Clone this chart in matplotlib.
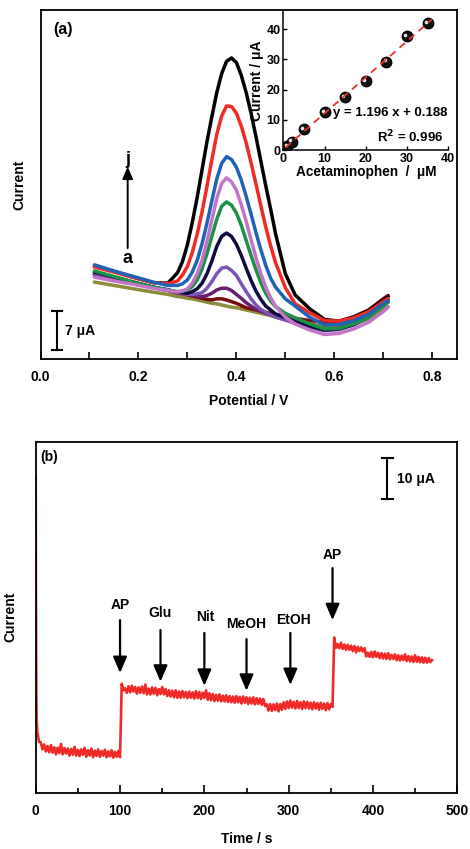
import numpy as np
import matplotlib
matplotlib.use('Agg')
import matplotlib.pyplot as plt
from matplotlib.transforms import ScaledTranslation

plt.rcParams['font.family'] = ['Liberation Sans', 'DejaVu Sans']
plt.rcParams['font.weight'] = 'bold'
plt.rcParams['axes.labelweight'] = 'bold'

# ---------------- panel (a): DPV curves ----------------
potential = [0.11, 0.15, 0.19, 0.23, 0.26,
             0.28, 0.29, 0.30, 0.31, 0.32, 0.33, 0.34, 0.35, 0.36, 0.37, 0.38,
             0.39, 0.40, 0.41, 0.42, 0.43, 0.44, 0.45, 0.46, 0.47, 0.48,
             0.50, 0.52, 0.55, 0.58, 0.61, 0.64, 0.67, 0.70, 0.71]

curve_a = [13.8, 13.2, 12.6, 12.0, 11.6,
           11.2, 11.1, 10.9, 10.8, 10.6, 10.4, 10.2, 10.0, 9.9, 9.7, 9.5,
           9.3, 9.2, 9.0, 8.8, 8.6, 8.4, 8.2, 8.0, 7.8, 7.6,
           7.2, 6.8, 6.3, 5.8, 5.8, 6.3, 7.2, 8.8, 9.4]
curve_b = [15.1, 14.3, 13.5, 12.8, 12.3,
           11.8, 11.7, 11.5, 11.3, 11.1, 10.9, 10.7, 10.6, 10.8, 10.8, 10.6,
           10.3, 10.0, 9.6, 9.2, 9.0, 8.8, 8.6, 8.4, 8.2, 8.0,
           7.7, 7.3, 6.9, 6.6, 6.8, 7.6, 8.8, 10.8, 11.4]
curve_c = [15.2, 14.4, 13.6, 12.8, 12.4,
           11.9, 11.8, 11.6, 11.5, 11.3, 11.2, 11.4, 11.8, 12.4, 12.7, 12.7,
           12.3, 11.6, 10.9, 10.1, 9.5, 8.9, 8.6, 8.2, 7.9, 7.6,
           7.1, 6.5, 5.9, 5.3, 5.5, 6.3, 7.7, 9.9, 10.6]
curve_d = [15.4, 14.5, 13.7, 12.9, 12.4,
           11.9, 11.8, 11.6, 11.6, 11.7, 11.9, 12.7, 13.9, 15.3, 16.3, 16.5,
           15.9, 15.0, 13.5, 12.1, 10.8, 9.7, 8.9, 8.4, 7.9, 7.5,
           7.0, 6.4, 5.7, 5.1, 5.3, 6.1, 7.5, 9.8, 10.5]
curve_e = [15.6, 14.7, 13.8, 12.9, 12.4,
           12.0, 11.9, 11.8, 12.1, 12.6, 13.6, 15.3, 17.6, 20.2, 22.0, 22.6,
           22.0, 20.6, 18.6, 16.3, 14.1, 12.2, 10.7, 9.5, 8.8, 8.1,
           7.4, 6.7, 5.9, 5.2, 5.4, 6.2, 7.6, 9.7, 10.4]
curve_f = [15.8, 14.8, 13.8, 12.9, 12.4,
           12.1, 12.2, 12.4, 13.0, 14.2, 16.2, 18.9, 22.0, 25.1, 27.4, 28.2,
           27.6, 26.2, 24.0, 21.3, 18.6, 16.0, 13.7, 11.8, 10.4, 9.4,
           8.2, 7.4, 6.3, 5.4, 5.5, 6.3, 7.5, 9.5, 10.2]
curve_g = [14.7, 14.0, 13.4, 12.7, 12.3,
           12.0, 12.2, 12.6, 13.6, 15.3, 17.7, 21.1, 25.0, 28.8, 31.5, 32.5,
           31.8, 30.3, 27.7, 24.7, 21.4, 18.2, 15.3, 12.9, 11.0, 9.5,
           7.5, 6.3, 5.2, 4.4, 4.6, 5.4, 6.6, 8.5, 9.3]
curve_h = [16.9, 15.8, 14.8, 13.8, 13.2,
           13.2, 13.5, 14.2, 15.6, 17.7, 20.7, 24.4, 28.4, 32.3, 35.1, 36.3,
           35.8, 34.4, 32.1, 29.2, 26.0, 22.7, 19.6, 16.8, 14.5, 12.9,
           10.8, 9.5, 7.5, 6.1, 6.2, 6.9, 8.0, 9.9, 10.5]
curve_i = [16.5, 15.6, 14.6, 13.7, 13.5,
           14.0, 15.1, 16.6, 19.1, 22.4, 26.4, 31.0, 35.8, 40.3, 43.6, 45.4,
           45.3, 44.1, 41.8, 38.8, 35.2, 31.4, 27.5, 23.7, 20.3, 17.3,
           12.8, 9.9, 8.3, 6.9, 6.8, 7.4, 8.5, 10.3, 10.9]
curve_j = [16.7, 15.7, 14.7, 13.7, 13.6,
           15.5, 17.5, 20.5, 24.5, 29.0, 34.0, 39.0, 43.5, 47.8, 51.2, 53.4,
           54.0, 53.2, 50.9, 47.8, 44.1, 39.9, 35.5, 31.1, 26.9, 22.5,
           15.3, 11.5, 9.0, 7.1, 6.8, 7.5, 8.7, 10.6, 11.2]

curve_names = ['a', 'b', 'c', 'd', 'e', 'f', 'g', 'h', 'i', 'j']
curves = [curve_a, curve_b, curve_c, curve_d, curve_e, curve_f, curve_g,
          curve_h, curve_i, curve_j]
curve_colors = ['#8c8c3c', '#7a0c10', '#6a1f6e', '#7b55b5', '#0d0b3f',
                '#1c9146', '#c474c8', '#1f63b4', '#f22a24', '#000000']
draw_order = [0, 1, 2, 3, 4, 5, 6, 9, 8, 7]

# inset calibration
conc = [1, 2, 5, 10, 15, 20, 25, 30, 35]
peak_current = [1.2, 2.7, 6.8, 12.6, 17.6, 22.9, 29.3, 37.7, 42.0]
slope, intercept = 1.196, 0.188
fit_range = [0.5, 36.0]

# ---------------- panel (b): amperometry ----------------
t0 = [0.0, 0.3, 0.7, 1.2]
i0 = [76.5, 45.0, 24.0, 17.0]
seg1_start = 2
seg1 = [14.5, 12.3, 12.2, 10.5, 11.7, 10.0, 11.3, 9.8, 11.5, 9.7,
        11.0, 9.3, 10.9, 9.6, 11.8, 9.3, 10.8, 9.5, 10.7, 9.0,
        10.6, 9.2, 11.1, 9.0, 10.4, 8.9, 10.5, 9.2, 10.9, 8.7,
        10.3, 9.0, 10.7, 8.6, 10.2, 8.9, 10.5, 8.7, 10.1, 9.0,
        10.4, 8.6, 10.0, 8.8, 10.3, 8.5, 9.9, 8.7, 10.1, 8.6]
seg2_start = 102
seg2 = [26.4, 24.8, 25.3, 24.2, 25.8, 24.3, 25.9, 24.5, 25.6, 24.0,
        25.5, 24.2, 25.7, 24.1, 26.2, 23.8, 25.2, 23.8, 25.5, 24.0,
        25.4, 23.6, 25.1, 23.9, 25.6, 23.8, 25.1, 23.4, 24.8, 23.3,
        24.7, 23.1, 24.8, 23.0, 24.5, 23.0, 24.6, 23.1, 24.4, 22.9,
        24.5, 23.0, 24.3, 22.8, 24.6, 22.9, 24.4, 22.7, 24.2, 23.0,
        24.8, 22.5, 24.1, 22.4, 23.9, 22.2, 23.7, 22.3, 23.8, 22.1,
        23.5, 22.1, 23.6, 22.0, 23.4, 21.9, 23.3, 21.8, 23.4, 21.9,
        23.2, 21.6, 23.3, 21.8, 23.1, 21.5, 23.0, 21.6, 23.1, 21.4,
        22.9, 21.5, 22.8, 21.3, 22.7, 21.0, 21.4, 19.9, 21.5, 19.8,
        21.4, 20.0, 21.6, 19.7, 21.5, 20.1, 21.9, 20.3, 22.1, 20.5,
        22.3, 20.6, 22.0, 20.4, 22.2, 20.5, 21.9, 20.3, 22.1, 20.5,
        22.0, 20.4, 21.8, 20.2, 21.9, 20.4, 21.7, 20.1, 21.8, 20.3,
        21.6, 20.0, 21.7, 20.2, 21.5, 20.8]
seg3_start = 354
seg3 = [37.6, 35.1, 36.0, 35.0, 36.3, 34.8, 35.9, 34.6, 35.8, 34.6,
        35.6, 34.3, 35.5, 34.0, 35.3, 34.3, 35.2, 34.2, 35.0, 33.0,
        33.9, 32.9, 34.1, 32.8, 34.2, 32.9, 33.9, 32.6, 33.8, 32.5,
        33.7, 32.4, 33.8, 32.3, 33.4, 32.4, 33.5, 32.1, 33.3, 32.0,
        33.2, 32.1, 33.5, 31.9, 33.1, 31.8, 33.0, 31.7, 33.3, 31.7,
        32.9, 31.6, 32.8, 31.5, 32.7, 31.5, 32.6, 31.6, 32.1]
step = 2

inj_labels = ['AP', 'Glu', 'Nit', 'MeOH', 'EtOH', 'AP']
inj_times = [100, 148, 200, 250, 302, 352]
inj_text_x = [100, 147, 201, 249, 306, 352]
inj_text_y = [45.4, 43.5, 42.6, 40.8, 41.8, 57.6]
inj_tail = [41.8, 39.4, 38.7, 37.2, 38.7, 54.4]
inj_tip = [29.0, 26.9, 25.9, 24.7, 26.1, 41.8]

# ---------------- figure ----------------
fig = plt.figure(figsize=(4.7, 8.49), dpi=100)

ax1 = fig.add_axes([0.0862, 0.5771, 0.8855, 0.4111])
for k in draw_order:
    ax1.plot(potential, curves[k], color=curve_colors[k], lw=2.5,
             solid_capstyle='round', solid_joinstyle='round')
ax1.set_xlim(0, 0.85)
ax1.set_ylim(0, 62.6)
ax1.set_yticks([])
ax1.set_xticks([0.0, 0.2, 0.4, 0.6, 0.8])
ax1.set_xticklabels(['0.0', '0.2', '0.4', '0.6', '0.8'])
ax1.set_xticks([0.1, 0.3, 0.5, 0.7], minor=True)
ax1.tick_params(axis='x', which='both', direction='in', length=5, width=1.2,
                pad=8, labelsize=10)
for s in ax1.spines.values():
    s.set_linewidth(1.3)
ax1.set_xlabel('Potential / V', fontsize=10, labelpad=7)
ax1.set_ylabel('Current', fontsize=10, labelpad=10)

ax1.text(0.025, 59.1, '(a)', fontsize=11.5, ha='left', va='center')
ax1.annotate('', xy=(0.178, 34.5), xytext=(0.178, 19.9),
             arrowprops=dict(arrowstyle='-|>,head_length=0.6,head_width=0.26',
                             color='black', lw=1.4, mutation_scale=12,
                             shrinkA=0, shrinkB=0))
ax1.text(0.178, 35.8, 'j', fontsize=13, ha='center', va='center')
ax1.text(0.178, 18.0, 'a', fontsize=13, ha='center', va='center')
# 7 uA scale bar
ax1.plot([0.0335, 0.0335], [1.6, 8.6], color='black', lw=1.5)
ax1.plot([0.024, 0.043], [8.6, 8.6], color='black', lw=1.5)
ax1.plot([0.024, 0.043], [1.6, 1.6], color='black', lw=1.5)
ax1.text(0.05, 5.0, '7 μA', fontsize=10, ha='left', va='center')

# inset
axin = fig.add_axes([0.6028, 0.8233, 0.351, 0.1635])
axin.set_facecolor('none')
axin.spines['top'].set_visible(False)
axin.spines['right'].set_visible(False)
for s in ['left', 'bottom']:
    axin.spines[s].set_linewidth(1.1)
axin.plot(conc, peak_current, 'o', ms=7.5, mfc='#111111', mec='black', zorder=3)
hl = axin.transData + ScaledTranslation(-1.3 / 72, 1.0 / 72, fig.dpi_scale_trans)
axin.plot(conc, peak_current, 'o', ms=2.6, mfc='#e6e6e6', mec='none',
          transform=hl, zorder=4)
xf = np.array(fit_range)
axin.plot(xf, slope * xf + intercept, color='#e8342c', lw=1.3,
          dashes=(4, 3), zorder=5)
axin.set_xlim(0, 40)
axin.set_ylim(0, 46)
axin.set_xticks([0, 10, 20, 30, 40])
axin.set_yticks([0, 10, 20, 30, 40])
axin.tick_params(axis='both', direction='in', length=3, width=1.0,
                 labelsize=9, pad=2)
axin.set_xlabel('Acetaminophen  /  μM', fontsize=9.8, labelpad=0)
axin.set_ylabel('Current / μA', fontsize=10, labelpad=2)
axin.text(39.8, 12.2, 'y = 1.196 x + 0.188', fontsize=9.5, ha='right',
          va='center')
axin.text(38.8, 4.4, 'R$^\\mathbf{2}$ = 0.996', fontsize=9.5, ha='right',
          va='center')

# panel (b)
ax2 = fig.add_axes([0.076, 0.0663, 0.897, 0.4134])
t1 = seg1_start + step * np.arange(len(seg1))
t2 = seg2_start + step * np.arange(len(seg2))
t3 = seg3_start + step * np.arange(len(seg3))
t_all = np.concatenate([t0, t1, t2, t3])
i_all = np.concatenate([i0, seg1, seg2, seg3])
ax2.plot(t_all, i_all, color='#f02a26', lw=1.9)
ax2.set_xlim(0, 500)
ax2.set_ylim(0, 85)
ax2.set_yticks([])
ax2.set_xticks([0, 100, 200, 300, 400, 500])
ax2.set_xticks([50, 150, 250, 350, 450], minor=True)
ax2.tick_params(axis='x', which='major', direction='in', length=6, width=1.2,
                pad=8, labelsize=10)
ax2.tick_params(axis='x', which='minor', direction='in', length=3.5, width=1.2)
for s in ax2.spines.values():
    s.set_linewidth(1.3)
ax2.set_xlabel('Time / s', fontsize=10, labelpad=10)
ax2.set_ylabel('Current', fontsize=10, labelpad=13)
ax2.text(5.5, 81.4, '(b)', fontsize=10, ha='left', va='center')

for lab, tt, tx, ty, ya, yb in zip(inj_labels, inj_times, inj_text_x,
                                   inj_text_y, inj_tail, inj_tip):
    ax2.annotate('', xy=(tt, yb), xytext=(tt, ya),
                 arrowprops=dict(arrowstyle='-|>,head_length=0.65,head_width=0.28',
                                 color='black', lw=1.6, mutation_scale=15,
                                 shrinkA=0, shrinkB=0))
    ax2.text(tx, ty, lab, fontsize=10, ha='center', va='center')

# 10 uA scale bar
ax2.plot([416.9, 416.9], [71.1, 81.1], color='black', lw=1.5)
ax2.plot([410.2, 423.6], [81.1, 81.1], color='black', lw=1.5)
ax2.plot([410.2, 423.6], [71.1, 71.1], color='black', lw=1.5)
ax2.text(427.9, 75.9, '10 μA', fontsize=10, ha='left', va='center')

fig.savefig('out.png', dpi=100)
